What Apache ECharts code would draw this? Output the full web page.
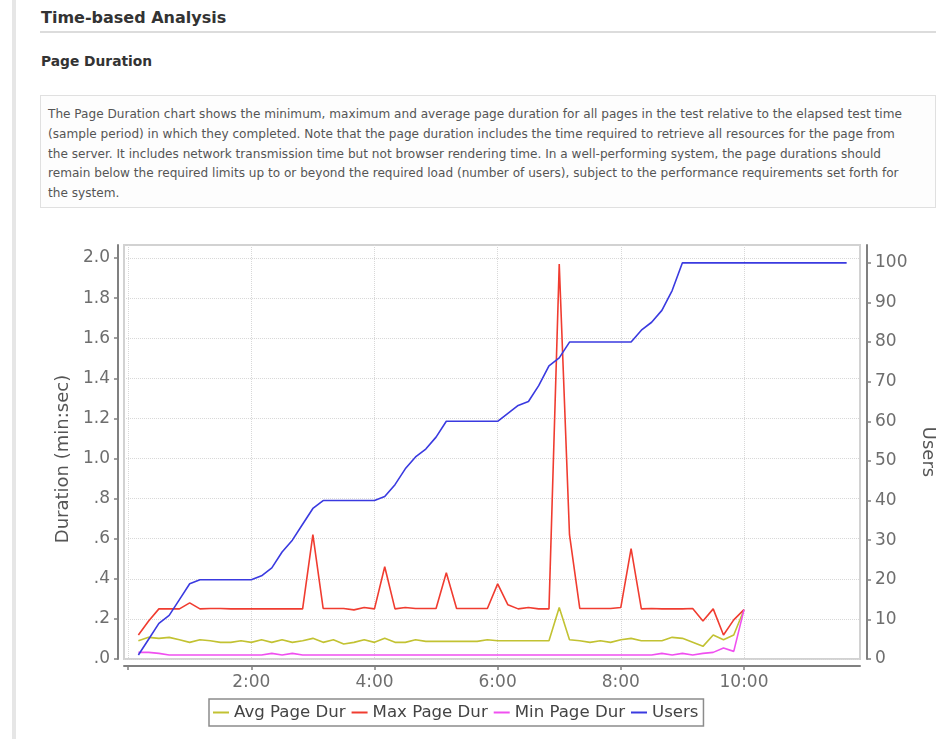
<!DOCTYPE html>
<html>
<head>
<meta charset="utf-8">
<script src="https://cdn.jsdelivr.net/npm/echarts@6/dist/echarts.min.js"></script>
<style>
html,body{margin:0;padding:0;background:#fff;width:941px;height:739px;overflow:hidden;font-family:"DejaVu Sans",sans-serif;}
#stripe{position:absolute;left:12px;top:0;width:4px;height:739px;background:#e6e6e6;}
#title{position:absolute;left:41px;top:8px;line-height:20px;font-size:16px;font-weight:bold;color:#333;white-space:nowrap;}
#rule{position:absolute;left:40px;top:31px;width:896px;height:2px;background:#dcdcdc;}
#sub{position:absolute;left:41px;top:51px;line-height:20px;font-size:13.8px;font-weight:bold;color:#333;white-space:nowrap;}
#desc{position:absolute;left:40px;top:95px;width:896px;height:113px;box-sizing:border-box;border:1px solid #e0e0e0;background:#fdfdfd;padding:9px 0 0 7px;font-size:12.1px;line-height:19.8px;color:#555;white-space:nowrap;}
#chart{position:absolute;left:0;top:0;width:941px;height:739px;}
</style>
</head>
<body>
<div id="stripe"></div>
<div id="title">Time-based Analysis</div>
<div id="rule"></div>
<div id="sub">Page Duration</div>
<div id="desc">The Page Duration chart shows the minimum, maximum and average page duration for all pages in the test relative to the elapsed test time<br>(sample period) in which they completed. Note that the page duration includes the time required to retrieve all resources for the page from<br>the server. It includes network transmission time but not browser rendering time. In a well-performing system, the page durations should<br>remain below the required limits up to or beyond the required load (number of users), subject to the performance requirements set forth for<br>the system.</div>
<div id="chart"></div>
<script>
// elapsed time (seconds) of each sample period
const pageTimes = [10,20,30,40,50,60,70,80,90,100,110,120,130,140,150,160,170,180,190,200,
  210,220,230,240,250,260,270,280,290,300,310,320,330,340,350,360,370,380,390,400,
  410,420,430,440,450,460,470,480,490,500,510,520,530,540,550,560,570,580,590,600];
const avgPageDur = [0.091,0.108,0.103,0.108,0.096,0.083,0.096,0.091,0.083,0.083,
  0.091,0.083,0.096,0.083,0.096,0.083,0.091,0.103,0.083,0.096,
  0.075,0.083,0.096,0.083,0.103,0.083,0.083,0.096,0.088,0.088,
  0.088,0.088,0.088,0.088,0.096,0.091,0.091,0.091,0.091,0.091,
  0.091,0.257,0.096,0.091,0.083,0.091,0.083,0.096,0.103,0.091,
  0.091,0.091,0.108,0.103,0.083,0.063,0.120,0.096,0.120,0.246];
const maxPageDur = [0.12,0.19,0.25,0.25,0.25,0.28,0.25,0.252,0.252,0.25,
  0.25,0.25,0.25,0.25,0.25,0.25,0.25,0.62,0.252,0.252,
  0.252,0.245,0.257,0.25,0.46,0.25,0.257,0.252,0.252,0.252,
  0.43,0.252,0.252,0.252,0.252,0.375,0.27,0.25,0.257,0.25,
  0.25,1.97,0.62,0.252,0.252,0.252,0.252,0.257,0.55,0.25,
  0.252,0.25,0.25,0.25,0.252,0.19,0.25,0.12,0.195,0.246];
const minPageDur = [0.033,0.033,0.028,0.02,0.02,0.02,0.02,0.02,0.02,0.02,
  0.02,0.02,0.02,0.028,0.02,0.028,0.02,0.02,0.02,0.02,
  0.02,0.02,0.02,0.02,0.02,0.02,0.02,0.02,0.02,0.02,
  0.02,0.02,0.02,0.02,0.02,0.02,0.02,0.02,0.02,0.02,
  0.02,0.02,0.02,0.02,0.02,0.02,0.02,0.02,0.02,0.02,
  0.02,0.028,0.02,0.028,0.02,0.028,0.033,0.055,0.038,0.246];
const userTimes = [10,20,30,40,50,60,70,80,90,100,110,120,130,140,150,160,170,180,190,200,
  210,220,230,240,250,260,270,280,290,300,310,320,330,340,350,360,370,380,390,400,
  410,420,430,440,450,460,470,480,490,500,510,520,530,540,550,560,570,580,590,600,
  610,620,630,640,650,660,670,680,690,700];
const users = [1,5,9,11,15,19,20,20,20,20,20,20,21,23,27,30,34,38,40,40,
  40,40,40,40,41,44,48,51,53,56,60,60,60,60,60,60,62,64,65,69,
  74,76,80,80,80,80,80,80,80,83,85,88,93,100,100,100,100,100,100,100,
  100,100,100,100,100,100,100,100,100,100];

const seriesNames = ['Avg Page Dur','Max Page Dur','Min Page Dur','Users'];
const seriesColors = ['#c2c232','#f03c30','#f050f0','#3a3ae0'];

const timeTickValues = [0,120,240,360,480,600];
const timeLabelValues = [120,240,360,480,600];
const timeLabels = ['2:00','4:00','6:00','8:00','10:00'];
const durationTickValues = [0,0.2,0.4,0.6,0.8,1.0,1.2,1.4,1.6,1.8,2.0];
const durationLabels = ['.0','.2','.4','.6','.8','1.0','1.2','1.4','1.6','1.8','2.0'];
const userTickValues = [0,10,20,30,40,50,60,70,80,90,100];
const userLabels = ['0','10','20','30','40','50','60','70','80','90','100'];

function lookup(vals, labels, v) {
  for (let i = 0; i < vals.length; i++) if (Math.abs(vals[i] - v) < 1e-6) return labels[i];
  return '';
}
function pairs(xs, ys) { return xs.map((x, i) => [x, ys[i]]); }

const font = 'DejaVu Sans';
const axisColor = '#808080';
const labelStyle = {color:'#6e6e6e', fontSize:17, fontFamily:font};

const chart = echarts.init(document.getElementById('chart'));
chart.setOption({
  animation: false,
  grid: {left:124, top:245, width:736, height:414, show:true, borderColor:'#d2d2d2', borderWidth:2,
         backgroundColor:'transparent', containLabel:false, outerBoundsMode:'none'},
  legend: {
    data: seriesNames, left:209, top:699, icon:'rect', itemWidth:16, itemHeight:2, itemGap:6,
    padding:[5,5,5,4], borderColor:'#8c8c8c', borderWidth:1.5, backgroundColor:'#fff',
    textStyle:{fontSize:16.6, color:'#444', fontFamily:font}
  },
  xAxis: {
    type:'value', min:-4, max:713, offset:7,
    axisLine:{show:true, onZero:false, lineStyle:{color:axisColor, width:2}},
    axisTick:{show:true, length:4, customValues:timeTickValues, lineStyle:{color:axisColor, width:1.5}},
    axisLabel:Object.assign({customValues:timeLabelValues, margin:8,
      formatter:v => lookup(timeLabelValues, timeLabels, v)}, labelStyle),
    splitLine:{show:true, lineStyle:{type:'dotted', color:'#d8d8d8', width:1}}
  },
  yAxis: [
    {
      type:'value', min:0, max:2.065, offset:6, position:'left',
      name:'Duration (min:sec)', nameLocation:'middle', nameRotate:90, nameGap:38,
      nameTextStyle:{fontSize:18, color:'#555', fontFamily:font, padding:[0,14,0,0]},
      axisLine:{show:true, onZero:false, lineStyle:{color:axisColor, width:2}},
      axisTick:{show:true, length:4, customValues:durationTickValues, lineStyle:{color:axisColor, width:1.5}},
      axisLabel:Object.assign({customValues:durationTickValues, margin:8,
        formatter:v => lookup(durationTickValues, durationLabels, v)}, labelStyle),
      splitLine:{show:true, lineStyle:{type:'dotted', color:'#d8d8d8', width:1}}
    },
    {
      type:'value', min:0, max:104.5, offset:7, position:'right',
      name:'Users', nameLocation:'middle', nameRotate:-90, nameGap:48,
      nameTextStyle:{fontSize:18, color:'#555', fontFamily:font},
      axisLine:{show:true, onZero:false, lineStyle:{color:axisColor, width:2}},
      axisTick:{show:true, length:4, customValues:userTickValues, lineStyle:{color:axisColor, width:1.5}},
      axisLabel:Object.assign({customValues:userTickValues, margin:8,
        formatter:v => lookup(userTickValues, userLabels, v)}, labelStyle),
      splitLine:{show:false}
    }
  ],
  series: [
    {name:seriesNames[0], type:'line', symbol:'none', yAxisIndex:0, data:pairs(pageTimes, avgPageDur),
     itemStyle:{color:seriesColors[0]}, lineStyle:{color:seriesColors[0], width:1.6}},
    {name:seriesNames[1], type:'line', symbol:'none', yAxisIndex:0, data:pairs(pageTimes, maxPageDur),
     itemStyle:{color:seriesColors[1]}, lineStyle:{color:seriesColors[1], width:1.6}},
    {name:seriesNames[2], type:'line', symbol:'none', yAxisIndex:0, data:pairs(pageTimes, minPageDur),
     itemStyle:{color:seriesColors[2]}, lineStyle:{color:seriesColors[2], width:1.6}},
    {name:seriesNames[3], type:'line', symbol:'none', yAxisIndex:1, data:pairs(userTimes, users),
     itemStyle:{color:seriesColors[3]}, lineStyle:{color:seriesColors[3], width:1.6}}
  ]
});
</script>
</body>
</html>
